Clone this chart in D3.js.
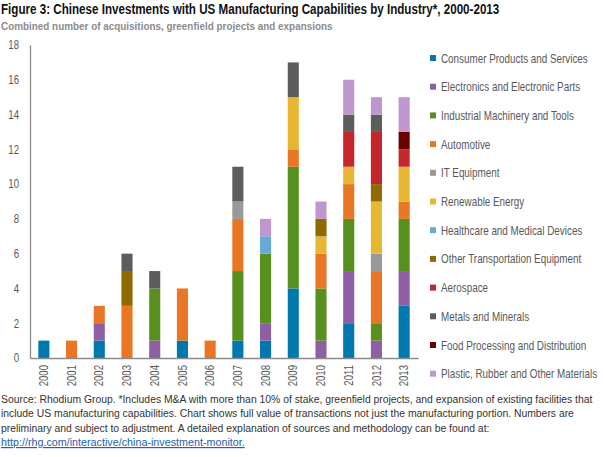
<!DOCTYPE html>
<html><head><meta charset="utf-8">
<script src="https://cdn.jsdelivr.net/npm/d3@7"></script>
<style>
html,body{margin:0;padding:0;background:#fff;}
svg{display:block;font-family:"Liberation Sans",Arial,sans-serif;}
</style></head>
<body><svg id="chart" width="604" height="457"></svg>
<script>
const years = ["2000","2001","2002","2003","2004","2005","2006","2007","2008","2009","2010","2011","2012","2013"];
const categories = ["Consumer Products and Services","Electronics and Electronic Parts","Industrial Machinery and Tools","Automotive","IT Equipment","Renewable Energy","Healthcare and Medical Devices","Other Transportation Equipment","Aerospace","Metals and Minerals","Food Processing and Distribution","Plastic, Rubber and Other Materials"];
const consumer       = [1,0,1,0,0,1,0,1,1,4,0,2,0,3];
const electronics    = [0,0,1,0,1,0,0,0,1,0,1,3,1,2];
const industrial     = [0,0,0,0,3,0,0,4,4,7,3,3,1,3];
const automotive     = [0,1,1,3,0,3,1,3,0,1,2,2,3,1];
const itEquipment    = [0,0,0,0,0,0,0,1,0,0,0,0,1,0];
const renewable      = [0,0,0,0,0,0,0,0,0,3,1,1,3,2];
const healthcare     = [0,0,0,0,0,0,0,0,1,0,0,0,0,0];
const otherTransport = [0,0,0,2,0,0,0,0,0,0,1,0,1,0];
const aerospace      = [0,0,0,0,0,0,0,0,0,0,0,2,3,1];
const metals         = [0,0,0,1,1,0,0,2,0,2,0,1,1,0];
const food           = [0,0,0,0,0,0,0,0,0,0,0,0,0,1];
const plastic        = [0,0,0,0,0,0,0,0,1,0,1,2,1,2];
const yTicks = [0,2,4,6,8,10,12,14,16,18];

const seriesValues = [consumer,electronics,industrial,automotive,itEquipment,renewable,healthcare,otherTransport,aerospace,metals,food,plastic];
const colors = ["#0078ae","#8f5fa6","#57901f","#e87624","#999999","#e8b732","#68a9d6","#8e6a00","#c3272b","#5d5d5d","#6b0000","#c096cf"];

const svg = d3.select("#chart");
const COND = 0.80; // horizontal condensation to mimic the condensed typeface

// place a text at (x0,y0), horizontally scaled to width w (or by factor k)
function placeScaled(parent, x0, y0, str, opts){
  const t = parent.append("text").attr("x",0).attr("y",0).text(str);
  Object.entries(opts.attrs||{}).forEach(([a,v])=>t.attr(a,v));
  const nat = t.node().getComputedTextLength();
  const k = opts.width ? opts.width/nat : opts.k;
  t.attr("transform",`translate(${x0},${y0}) scale(${k},1)`);
  return t;
}

const table = years.map((y,i)=>{const o={year:y}; categories.forEach((c,k)=>o[c]=seriesValues[k][i]); return o;});
const stack = d3.stack().keys(categories)(table);

const x = d3.scaleBand().domain(years).range([30,418]).paddingInner(0.6).paddingOuter(0.3);
const y = d3.scaleLinear().domain([0,18]).range([358,45]);
const color = d3.scaleOrdinal().domain(categories).range(colors);

// title & subtitle
placeScaled(svg,1,14,"Figure 3: Chinese Investments with US Manufacturing Capabilities by Industry*, 2000-2013",
  {width:499, attrs:{"font-size":14.5,"font-weight":"bold",fill:"#111"}});
placeScaled(svg,1,30,"Combined number of acquisitions, greenfield projects and expansions",
  {width:332, attrs:{"font-size":11.5,"font-weight":"bold",fill:"#8c8c8c"}});

// bars
svg.append("g").selectAll("g").data(stack).join("g").attr("fill",d=>color(d.key))
  .selectAll("rect").data(d=>d.filter(s=>s[1]>s[0])).join("rect")
  .attr("x",d=>x(d.data.year)).attr("width",x.bandwidth())
  .attr("y",d=>y(d[1])).attr("height",d=>y(d[0])-y(d[1]));

// y axis
const yAxis = svg.append("g").attr("transform","translate(30,0)")
  .call(d3.axisLeft(y).tickValues(yTicks).tickSize(0).tickPadding(11));
yAxis.select(".domain").attr("stroke","#8a8a8a").attr("stroke-width",1.3);
yAxis.selectAll(".tick text").attr("font-size",12).attr("fill","#595959").attr("font-family","inherit")
  .attr("transform",`translate(-11,0) scale(${COND},1)`).attr("x",0);

// x axis
const xAxis = svg.append("g").attr("transform","translate(0,358)")
  .call(d3.axisBottom(x).tickSize(0).tickPadding(6));
xAxis.select(".domain").attr("stroke","#8a8a8a").attr("stroke-width",1.3);
xAxis.selectAll(".tick text").attr("font-size",12).attr("fill","#595959").attr("font-family","inherit")
  .attr("transform",`rotate(-90) scale(${COND},1)`).attr("text-anchor","end").attr("dy","0.35em").attr("x",-7/COND).attr("y",0);

// legend
const lg = svg.append("g").selectAll("g").data(categories).join("g")
  .attr("transform",(d,i)=>`translate(430,${58+i*28.7})`);
lg.append("rect").attr("x",0).attr("y",-3).attr("width",6).attr("height",6).attr("fill",d=>color(d));
const probe = svg.append("text").attr("font-size",12).text(categories[0]);
const kLeg = 147 / probe.node().getComputedTextLength();
probe.remove();
lg.each(function(d){ placeScaled(d3.select(this),11,4.5,d,{k:kLeg, attrs:{"font-size":12,fill:"#595959"}}); });

// footnote
const notes = ["Source: Rhodium Group. *Includes M&A with more than 10% of stake, greenfield projects, and expansion of existing facilities that",
"include US manufacturing capabilities. Chart shows full value of transactions not just the manufacturing portion. Numbers are",
"preliminary and subject to adjustment. A detailed explanation of sources and methodology can be found at:"];
const noteW = [592, 574, 489];
notes.forEach((t,i)=>placeScaled(svg,1,403+i*14.4,t,{width:noteW[i], attrs:{"font-size":11.5,fill:"#333"}}));
placeScaled(svg,1,446,"http://rhg.com/interactive/china-investment-monitor.",
  {width:244, attrs:{"font-size":11.5,fill:"#1f5fa8","text-decoration":"underline"}});
</script></body></html>
